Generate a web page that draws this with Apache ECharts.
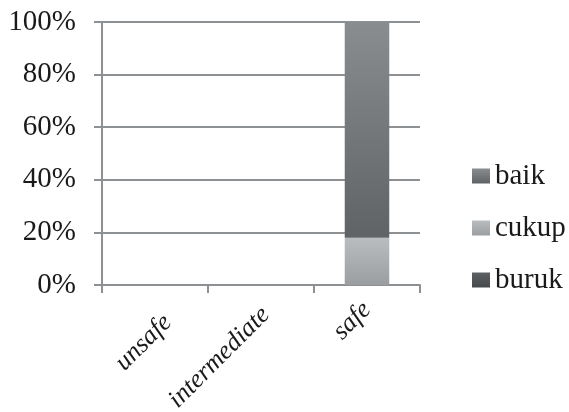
<!DOCTYPE html>
<html>
<head>
<meta charset="utf-8">
<script src="https://cdn.jsdelivr.net/npm/echarts@6/dist/echarts.min.js"></script>
<style>
  html, body { margin: 0; padding: 0; background: #fff; }
  #chart { width: 569px; height: 412px; }
</style>
</head>
<body>
<div id="chart"></div>
<script>
// Kategori keselamatan dan persentase kondisi (stacked 100%)
const categories = ['unsafe', 'intermediate', 'safe'];
const buruk = [0, 0, 0];
const cukup = [0, 0, 18];
const baik  = [0, 0, 82];
const yTicks = [0, 20, 40, 60, 80, 100];

// top padding per category label (nudges the rotated text down-right)
const labelNudge = [36, 14, 0];

const axisGray = '#8e9193';
const serif = '"Liberation Serif", "Times New Roman", serif';

function grad(top, bottom) {
  return new echarts.graphic.LinearGradient(0, 0, 0, 1, [
    { offset: 0, color: top },
    { offset: 1, color: bottom }
  ]);
}

const colBuruk = grad('#5c6063', '#45494c');
const colCukup = grad('#babdbf', '#9b9ea1');
const colBaik  = grad('#8a8d8f', '#5f6366');

const catFont = { fontFamily: serif, fontStyle: 'italic', fontSize: 26, color: '#1a1a1a' };
const catRich = {};
labelNudge.forEach((p, i) => { catRich['c' + i] = Object.assign({ padding: [p, 0, 0, 0] }, catFont); });

const chart = echarts.init(document.getElementById('chart'), null, { renderer: 'canvas' });

chart.setOption({
  animation: false,
  backgroundColor: '#ffffff',
  textStyle: { fontFamily: serif },
  grid: { left: 102, right: 149, top: 22, bottom: 127, containLabel: false, outerBoundsMode: 'none' },
  legend: {
    orient: 'vertical',
    left: 467,
    top: 156,
    itemWidth: 18,
    itemHeight: 15,
    itemGap: 22,
    icon: 'rect',
    textStyle: { fontFamily: serif, fontSize: 29, lineHeight: 30, color: '#1a1a1a' },
    data: ['baik', 'cukup', 'buruk']
  },
  xAxis: {
    type: 'category',
    data: categories,
    axisLine: { lineStyle: { color: axisGray, width: 2 } },
    axisTick: { show: true, length: 8, alignWithLabel: false, lineStyle: { color: axisGray, width: 2 } },
    axisLabel: Object.assign({
      rotate: 45,
      margin: 21,
      interval: 0,
      formatter: (v, i) => '{c' + i + '|' + v + '}',
      rich: catRich
    }, catFont),
    splitLine: { show: false }
  },
  yAxis: {
    type: 'value',
    min: 0,
    max: 100,
    interval: 20,
    axisLine: { show: true, lineStyle: { color: axisGray, width: 2 } },
    axisTick: { show: true, length: 8, lineStyle: { color: axisGray, width: 2 } },
    axisLabel: {
      margin: 26,
      fontFamily: serif,
      fontSize: 29,
      color: '#1a1a1a',
      formatter: v => (yTicks.includes(v) ? v + '%' : '')
    },
    splitLine: { show: true, lineStyle: { color: axisGray, width: 2 } }
  },
  series: [
    { name: 'buruk', type: 'bar', stack: 'total', data: buruk, barWidth: '42%', itemStyle: { color: colBuruk } },
    { name: 'cukup', type: 'bar', stack: 'total', data: cukup, barWidth: '42%', itemStyle: { color: colCukup } },
    { name: 'baik',  type: 'bar', stack: 'total', data: baik,  barWidth: '42%', itemStyle: { color: colBaik } }
  ]
});
</script>
</body>
</html>
